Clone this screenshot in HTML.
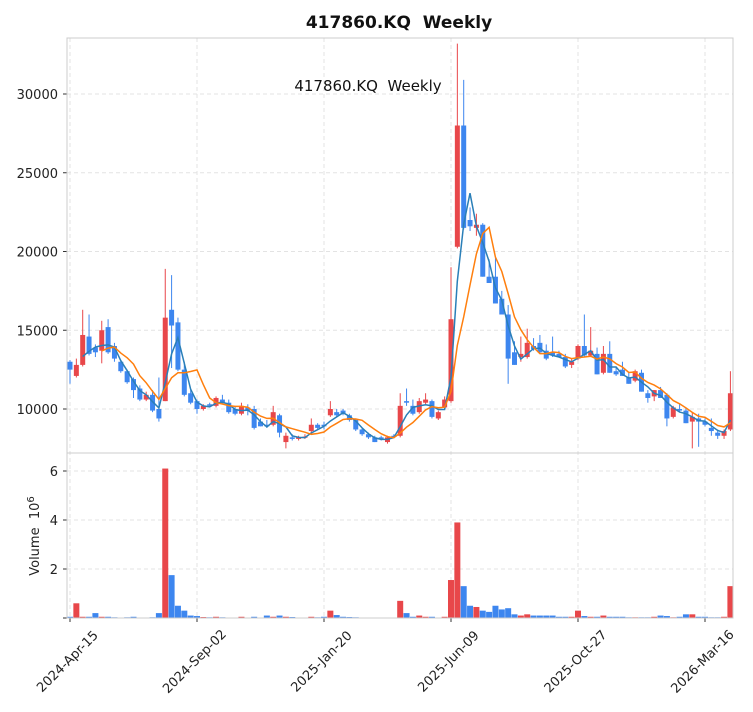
<!DOCTYPE html>
<html><head><meta charset="utf-8"><style>
body{margin:0;background:#fff;}
svg{display:block;font-family:"DejaVu Sans","Liberation Sans",sans-serif;}
</style></head><body>
<svg id="s" width="753" height="712" xmlns="http://www.w3.org/2000/svg"></svg>
<script>
const D=[
[13000,13100,11600,12500],[12100,13200,12000,12800],[12800,16300,12700,14700],[14600,16000,13400,13500],[13900,14100,13300,13600],
[13700,15600,12900,15000],[15200,15700,13500,13600],[14000,14200,13000,13200],[13000,13100,12300,12400],[12400,12500,11600,11700],
[11900,12000,10700,11200],[11300,11500,10500,10600],[10600,11100,10500,10900],[10900,11200,9800,9900],[10000,12000,9200,9400],
[10500,18900,10500,15800],[16300,18500,12600,15300],[15500,15800,12400,12500],[12500,13000,10800,10900],[11000,11200,10300,10400],
[10500,10600,9700,10000],[10000,10300,9900,10200],[10300,10400,10100,10200],[10200,10800,10100,10700],[10600,10900,10300,10400],
[10400,10600,9700,9800],[10000,10200,9600,9700],[9700,10400,9600,10200],[10100,10300,9600,9900],[10000,10200,8700,8800],
[9200,9400,8900,8900],[9000,9300,8800,8900],[9000,10200,8900,9800],[9600,9700,8200,8500],[7900,8500,7500,8300],
[8200,8400,8000,8100],[8100,8300,8000,8200],[8200,8400,8100,8250],[8600,9400,8500,9000],[9000,9100,8700,8800],
[9000,9200,8700,8900],[9600,10500,9500,10000],[9800,10000,9500,9600],[9900,10000,9600,9700],[9600,9700,9200,9300],
[9300,9400,8600,8700],[8700,8800,8300,8400],[8400,8500,8100,8200],[8200,8300,7900,7900],[8200,8300,8000,8100],
[7900,8300,7800,8200],[8300,8400,8200,8250],[8300,11000,8200,10200],[10500,11300,10200,10400],[10200,10600,9600,9700],
[9800,10700,9700,10500],[10400,11000,10300,10600],[10500,10600,9400,9500],[9400,9900,9300,9800],[10100,10800,10000,10600],
[10500,19000,10400,15700],[20300,33200,20200,28000],[28000,30900,21400,21500],[22000,22800,21300,21600],[21500,22400,21000,21700],
[21700,21800,18400,18400],[18400,19500,18000,18000],[18400,19700,16700,16700],[17000,17500,16000,16000],[16000,16600,11600,13200],
[13600,14300,12800,12800],[13300,14600,13000,13500],[13300,15100,13200,14200],[14000,14500,13700,13800],[14200,14700,13500,13600],
[13700,14100,13100,13200],[13600,14600,13300,13400],[13500,13700,13300,13300],[13300,13500,12600,12700],[12800,13200,12600,13000],
[13200,14100,13100,14000],[14000,16000,13300,13400],[13400,15200,13300,13700],[13500,13900,12200,12200],[12300,14000,12200,13500],
[13500,14300,12300,12300],[12400,12700,12100,12200],[12500,13000,12100,12100],[12000,12300,11600,11600],[11800,12500,11700,12400],
[12300,12500,11100,11100],[11000,11200,10400,10700],[10800,11200,10500,11200],[11200,11400,10700,10700],[10900,11000,8900,9400],
[9500,10200,9400,10100],[10000,10300,9800,9900],[9900,10100,9100,9100],[9200,9800,7500,9500],[9400,9700,7600,9200],
[9200,9400,8900,9000],[8800,9400,8300,8600],[8500,8700,8100,8300],[8300,8700,8100,8600],[8700,12400,8600,11000]];
const V=[0.05,0.6,0.05,0.05,0.2,0.05,0.05,0.03,0.02,0.03,0.05,0.02,0.02,0.03,0.2,6.1,1.75,0.5,0.3,0.1,0.08,0.04,0.03,0.05,0.03,0.02,0.02,0.05,0.02,0.05,0.02,0.1,0.05,0.1,0.05,0.04,0.02,0.02,0.05,0.03,0.05,0.3,0.12,0.05,0.04,0.03,0.02,0.02,0.02,0.02,0.02,0.02,0.7,0.2,0.05,0.1,0.05,0.05,0.02,0.05,1.55,3.9,1.3,0.5,0.45,0.3,0.25,0.5,0.35,0.4,0.15,0.1,0.15,0.1,0.1,0.1,0.1,0.05,0.05,0.05,0.3,0.08,0.05,0.05,0.1,0.05,0.05,0.05,0.03,0.03,0.03,0.03,0.05,0.1,0.08,0.03,0.05,0.15,0.15,0.05,0.05,0.03,0.03,0.05,1.3];
const s=document.getElementById('s');let h='';
const X=i=>70+6.35*i, Y=p=>409-(p-10000)*0.01575, VY=v=>618-v*24.5;
const L=67,R=733,T=38,M=453,B=618;
const xt=[70,197,324,451,578,705], xl=['2024-Apr-15','2024-Sep-02','2025-Jan-20','2025-Jun-09','2025-Oct-27','2026-Mar-16'];
xt.forEach(x=>{h+=`<line x1="${x}" y1="${T}" x2="${x}" y2="${B}" stroke="#e3e3e3" stroke-dasharray="4,3"/>`});
[10000,15000,20000,25000,30000].forEach(p=>{h+=`<line x1="${L}" y1="${Y(p)}" x2="${R}" y2="${Y(p)}" stroke="#e3e3e3" stroke-dasharray="4,3"/><line x1="${L-4}" y1="${Y(p)}" x2="${L}" y2="${Y(p)}" stroke="#333"/><text x="${L-9}" y="${Y(p)+5}" font-size="13" text-anchor="end" fill="#222">${p}</text>`});
[2,4,6].forEach(v=>{h+=`<line x1="${L}" y1="${VY(v)}" x2="${R}" y2="${VY(v)}" stroke="#e3e3e3" stroke-dasharray="4,3"/><line x1="${L-4}" y1="${VY(v)}" x2="${L}" y2="${VY(v)}" stroke="#333"/><text x="${L-9}" y="${VY(v)+5}" font-size="13" text-anchor="end" fill="#222">${v}</text>`});
h+=`<line x1="${L-4}" y1="${B}" x2="${L}" y2="${B}" stroke="#333"/>`;
xt.forEach((x,k)=>{h+=`<line x1="${x}" y1="${B}" x2="${x}" y2="${B+4}" stroke="#333"/><text transform="translate(${x-2},${B+44}) rotate(-45)" font-size="13" text-anchor="middle" dominant-baseline="middle" fill="#222">${xl[k]}</text>`});
const up='#e8474a',dn='#3d86ef';
D.forEach((d,i)=>{const[o,hi,lo,c]=d,x=X(i),col=c>=o?up:dn;
h+=`<line x1="${x}" y1="${Y(hi)}" x2="${x}" y2="${Y(lo)}" stroke="${col}" stroke-width="1"/>`;
const t=Math.min(Y(o),Y(c)),bh=Math.max(Math.abs(Y(o)-Y(c)),1.2);
h+=`<rect x="${x-2.5}" y="${t}" width="5" height="${bh}" fill="${col}"/>`;
h+=`<rect x="${x-3}" y="${VY(V[i])}" width="6" height="${V[i]*24.5}" fill="${col}"/>`;});
function ma(n,col){let p='';for(let i=n-1;i<D.length;i++){let a=0;for(let j=i-n+1;j<=i;j++)a+=D[j][3];a/=n;p+=(p?'L':'M')+X(i).toFixed(1)+','+Y(a).toFixed(1);}h+=`<path d="${p}" fill="none" stroke="${col}" stroke-width="1.5"/>`;}
ma(3,'#2a7fb8');ma(6,'#ff7f0e');
h+=`<rect x="${L}" y="${T}" width="${R-L}" height="${B-T}" fill="none" stroke="#ccc"/><line x1="${L}" y1="${M}" x2="${R}" y2="${M}" stroke="#ccc"/>`;
h+=`<text x="399" y="28" font-size="17" font-weight="bold" text-anchor="middle" fill="#111" xml:space="preserve">417860.KQ  Weekly</text>`;
h+=`<text x="368" y="91" font-size="15" text-anchor="middle" fill="#111" xml:space="preserve">417860.KQ  Weekly</text>`;
h+=`<text transform="translate(39,536) rotate(-90)" font-size="13" text-anchor="middle" fill="#222" xml:space="preserve">Volume  10<tspan dy="-5" font-size="10">6</tspan></text>`;
s.innerHTML=h;
</script>
</body></html>
